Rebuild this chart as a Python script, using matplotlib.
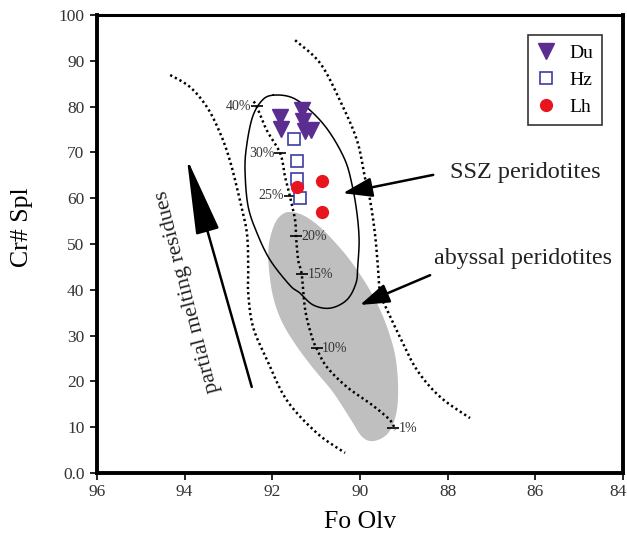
import numpy as np
import matplotlib
matplotlib.use("Agg")
import matplotlib.pyplot as plt
from matplotlib.transforms import ScaledTranslation

plt.rcParams['font.family'] = ['Liberation Serif', 'DejaVu Serif']

# samples (Fo olivine, Cr# spinel)
du_fo = [91.82, 91.80, 91.32, 91.30, 91.12, 91.25]
du_cr = [77.7, 75.1, 79.3, 76.9, 75.0, 74.6]
hz_fo = [91.50, 91.44, 91.44, 91.38]
hz_cr = [72.9, 68.2, 64.1, 60.0]
lh_fo = [91.44, 90.87, 90.87]
lh_cr = [62.5, 63.8, 57.1]

# SSZ peridotite field (solid outline)
ssz_fo = [91.98, 91.53, 91.07, 90.68, 90.34, 90.18, 90.07, 90.02, 90.05, 90.09,
          90.30, 90.68, 91.07, 91.37, 91.60, 92.05, 92.35, 92.55, 92.62, 92.60,
          92.46, 92.24]
ssz_cr = [82.5, 81.9, 78.6, 74.2, 68.3, 62.9, 56.8, 50.9, 45.4, 41.5,
          37.8, 36.0, 36.7, 39.3, 41.0, 46.5, 52.4, 58.1, 65.1, 70.5,
          77.5, 81.3]

# abyssal peridotite field (grey)
aby_fo = [91.60, 91.30, 90.96, 90.62, 90.23, 89.84, 89.54, 89.32, 89.18, 89.13,
          89.18, 89.36, 89.68, 89.95, 90.23, 90.62, 91.07, 91.46, 91.78, 91.98,
          92.08, 92.08, 91.96, 91.80]
aby_cr = [57.0, 56.3, 54.1, 50.9, 46.5, 41.0, 35.6, 30.1, 24.7, 18.1,
          12.7, 8.7, 7.0, 7.9, 12.0, 17.7, 22.9, 27.9, 33.0, 38.4,
          44.8, 49.8, 54.1, 56.3]

# OSMA boundaries (dotted)
left_fo = [94.33, 93.88, 93.49, 93.19, 92.97, 92.74, 92.58, 92.55, 92.55, 92.44,
           92.12, 91.67, 90.98, 90.34]
left_cr = [86.9, 84.3, 79.9, 74.2, 68.3, 59.6, 52.4, 45.0, 39.3, 31.9,
           24.7, 15.9, 8.7, 4.4]
right_fo = [91.48, 90.91, 90.46, 90.07, 89.89, 89.77, 89.66, 89.59, 89.54, 89.38,
            89.09, 88.70, 88.17, 87.49]
right_cr = [94.5, 89.5, 81.4, 72.7, 64.6, 59.6, 52.4, 45.0, 39.3, 35.6,
            29.7, 22.5, 16.6, 12.0]

# melting trend
melt_fo = [92.43, 92.36, 92.13, 91.82, 91.71, 91.60, 91.48, 91.46, 91.41, 91.33,
           91.25, 91.10, 90.99, 90.76, 90.30, 89.77, 89.32, 89.20]
melt_cr = [81.1, 80.1, 74.9, 69.8, 64.7, 60.5, 55.2, 51.7, 46.5, 43.4,
           35.6, 29.8, 27.2, 23.2, 18.8, 15.2, 11.6, 9.4]
pct_labels = ['40%', '30%', '25%', '20%', '15%', '10%', '1%']
pct_fo = [92.36, 91.82, 91.60, 91.46, 91.33, 90.99, 89.24]
pct_cr = [80.1, 69.8, 60.5, 51.7, 43.4, 27.2, 9.8]

xticks = [96, 94, 92, 90, 88, 86, 84]
yticks = [0, 10, 20, 30, 40, 50, 60, 70, 80, 90, 100]
ylabels = ['0.0', '10', '20', '30', '40', '50', '60', '70', '80', '90', '100']


def smooth(xs, ys, closed=False, n=14):
    pts = np.column_stack([xs, ys]).astype(float)
    if closed:
        pts = np.vstack([pts[-1], pts, pts[0], pts[1]])
    else:
        pts = np.vstack([pts[0], pts, pts[-1]])
    t = np.linspace(0, 1, n, endpoint=False)[:, None]
    out = []
    for i in range(1, len(pts) - 2):
        p0, p1, p2, p3 = pts[i - 1:i + 3]
        out.append(0.5 * (2 * p1 + (p2 - p0) * t
                          + (2 * p0 - 5 * p1 + 4 * p2 - p3) * t ** 2
                          + (3 * p1 - p0 - 3 * p2 + p3) * t ** 3))
    out.append(pts[-2][None])
    c = np.vstack(out)
    return c[:, 0], c[:, 1]


fig = plt.figure(figsize=(6.27, 5.39), dpi=100)
ax = fig.add_axes([0.1547, 0.1224, 0.8389, 0.8497])

gx, gy = smooth(aby_fo, aby_cr, closed=True)
ax.fill(gx, gy, color='#bfbfbf', lw=0, zorder=1)

sx, sy = smooth(ssz_fo, ssz_cr, closed=True)
ax.plot(sx, sy, color='black', lw=1.1, zorder=2)

dot = (0, (0.9, 1.2))
for fx, fy in [(left_fo, left_cr), (right_fo, right_cr), (melt_fo, melt_cr)]:
    cx, cy = smooth(fx, fy)
    ax.plot(cx, cy, color='black', lw=1.8, linestyle=dot, zorder=3)

ax.plot(pct_fo, pct_cr, linestyle='none', marker='_', ms=9, mew=1.2,
        color='black', zorder=3)
for lab, fx, fy in zip(pct_labels, pct_fo, pct_cr):
    if lab in ('40%', '30%', '25%'):
        off, ha = (-4, 0), 'right'
    else:
        off, ha = (4, 0), 'left'
    ax.annotate(lab, (fx, fy), xytext=off, textcoords='offset points',
                ha=ha, va='center', fontsize=10, color='#333333', zorder=4)

ax.plot(du_fo, du_cr, linestyle='none', marker='v', ms=11, color='#5b2d90',
        label='Du', zorder=5)
ax.plot(hz_fo, hz_cr, linestyle='none', marker='s', ms=8.5, mfc='white',
        mec='#3c3ca8', mew=1.2, label='Hz', zorder=5)
ax.plot(lh_fo, lh_cr, linestyle='none', marker='o', ms=8.5, color='#e8141e',
        label='Lh', zorder=5)

# arrows and field names
ax.annotate('', xy=(93.95, 68.7), xytext=(92.47, 18.8),
            arrowprops=dict(arrowstyle='-|>,head_length=4.8,head_width=0.75',
                            mutation_scale=10, color='black', lw=1.8,
                            shrinkA=0, shrinkB=0))
ax.text(93.92, 39.7, 'partial melting residues', rotation=104.5,
        ha='center', va='center', fontsize=16, color='#222222')

ax.annotate('', xy=(90.39, 61.1), xytext=(88.33, 65.1),
            arrowprops=dict(arrowstyle='-|>,head_length=1.8,head_width=0.6',
                            mutation_scale=10, color='black', lw=1.8,
                            shrinkA=0, shrinkB=0))
ax.text(87.95, 65.7, 'SSZ peridotites', ha='left', va='center',
        fontsize=17.5, color='#222222')

ax.annotate('', xy=(90.0, 36.7), xytext=(88.40, 43.2),
            arrowprops=dict(arrowstyle='-|>,head_length=1.8,head_width=0.6',
                            mutation_scale=10, color='black', lw=1.8,
                            shrinkA=0, shrinkB=0))
ax.text(88.31, 46.9, 'abyssal peridotites', ha='left', va='center',
        fontsize=17.3, color='#222222')

ax.set_xlim(96, 84)
ax.set_ylim(0, 100)
ax.set_xticks(xticks)
ax.set_xticklabels([str(v) for v in xticks])
ax.set_yticks(yticks)
ax.set_yticklabels(ylabels)
ax.tick_params(direction='out', length=5, width=1.2, labelsize=12.5,
               labelcolor='#333333')
ax.tick_params(axis='x', pad=3)
ax.tick_params(axis='y', pad=4)
for s in ax.spines.values():
    s.set_linewidth(2.8)
ax.spines['top'].set_linewidth(2.2)

# keep the last x label inside the figure
last = ax.get_xticklabels()[-1]
last.set_transform(last.get_transform()
                   + ScaledTranslation(-5 / 100, 0, fig.dpi_scale_trans))

ax.set_xlabel('Fo Olv', fontsize=18.5, labelpad=8)
ax.set_ylabel('Cr# Spl', fontsize=18.5)
ax.yaxis.set_label_coords(-0.121, 0.537)

leg = ax.legend(loc='upper right', bbox_to_anchor=(0.960, 0.956), fontsize=14,
                frameon=True, fancybox=False, edgecolor='black',
                borderaxespad=0, borderpad=0.45, labelspacing=0.5,
                handlelength=1.0, handletextpad=0.7)
leg.get_frame().set_linewidth(1.2)

fig.savefig('out.png', dpi=100)
